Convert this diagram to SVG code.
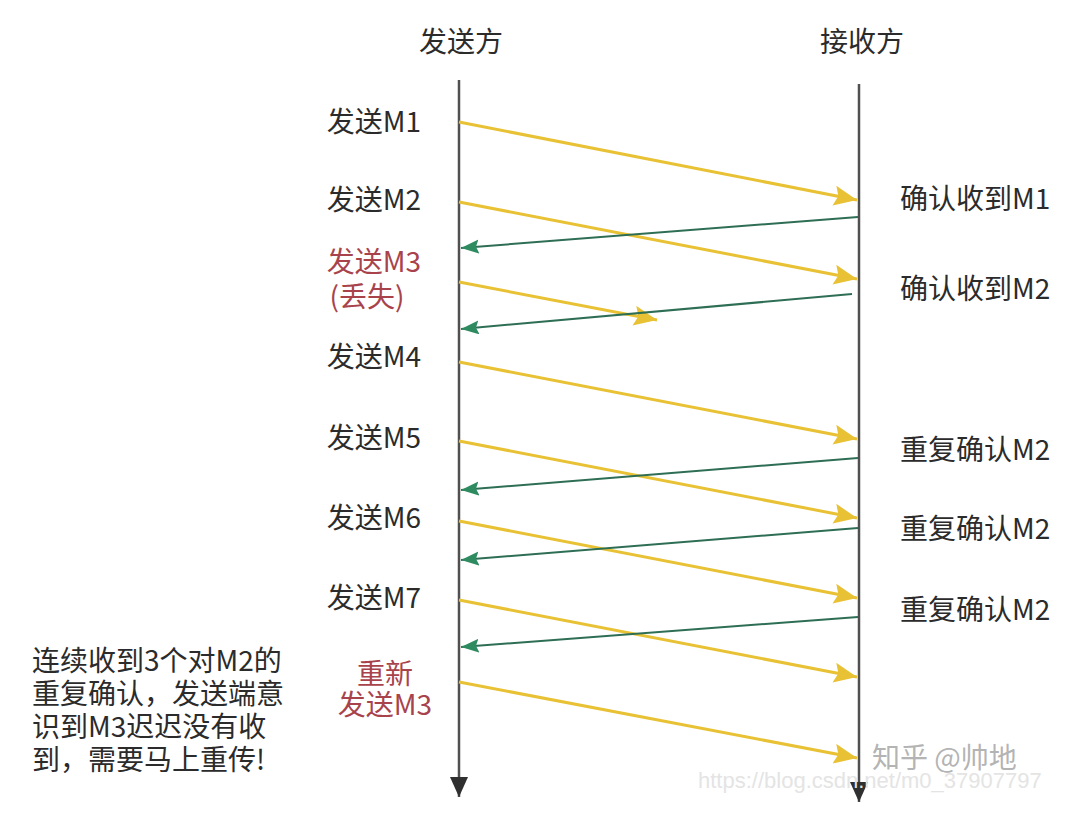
<svg xmlns="http://www.w3.org/2000/svg" width="1080" height="818" viewBox="0 0 1080 818">
<defs>
<style>
.t{font-family:"Noto Sans CJK SC","Noto Sans",sans-serif;font-size:28px;fill:#2b2b2b}
.r{fill:#a8434c}
.life{stroke:#505050;stroke-width:2.5;fill:none}
.y{stroke:#E8C234;stroke-width:3;fill:none;marker-end:url(#ya)}
.g{stroke:#2E6E55;stroke-width:2;fill:none;marker-end:url(#ga)}
</style>
<marker id="ya" markerUnits="userSpaceOnUse" markerWidth="26" markerHeight="22" refX="23" refY="10" orient="auto">
<path d="M0,0 L23,10 L0,20 L4,10 Z" fill="#E8C234"/>
</marker>
<marker id="ga" markerUnits="userSpaceOnUse" markerWidth="20" markerHeight="16" refX="18" refY="7" orient="auto">
<path d="M0,0 L18,7 L0,14 L3,7 Z" fill="#2E8B5F"/>
</marker>
<marker id="la" markerUnits="userSpaceOnUse" markerWidth="22" markerHeight="20" refX="20" refY="9" orient="auto">
<path d="M0,0 L20,9 L0,18 Z" fill="#303030"/>
</marker>
</defs>
<rect width="1080" height="818" fill="#ffffff"/>

<g id="sender">
<text class="t" x="461" y="52" text-anchor="middle">发送方</text>
<line class="life" x1="459" y1="80" x2="459" y2="797" style="marker-end:url(#la)"/>
</g>
<g id="receiver">
<text class="t" x="862" y="52" text-anchor="middle">接收方</text>
<line class="life" x1="859" y1="84" x2="859" y2="802" style="marker-end:url(#la)"/>
</g>

<g id="sender-labels">
<text class="t" x="421" y="132" text-anchor="end">发送M1</text>
<text class="t" x="421" y="210" text-anchor="end">发送M2</text>
<text class="t r"><tspan x="421" y="272" text-anchor="end">发送M3</tspan><tspan x="367" y="307" text-anchor="middle">(丢失)</tspan></text>
<text class="t" x="421" y="367" text-anchor="end">发送M4</text>
<text class="t" x="421" y="448" text-anchor="end">发送M5</text>
<text class="t" x="421" y="528" text-anchor="end">发送M6</text>
<text class="t" x="421" y="608" text-anchor="end">发送M7</text>
<text class="t r" text-anchor="middle"><tspan x="385" y="684">重新</tspan><tspan x="385" y="715">发送M3</tspan></text>
</g>

<g id="receiver-labels">
<text class="t" x="900" y="209">确认收到M1</text>
<text class="t" x="900" y="299">确认收到M2</text>
<text class="t" x="900" y="460">重复确认M2</text>
<text class="t" x="900" y="539">重复确认M2</text>
<text class="t" x="900" y="620">重复确认M2</text>
</g>

<g id="note">
<text class="t"><tspan x="32" y="671">连续收到3个对M2的</tspan><tspan x="32" y="704">重复确认，发送端意</tspan><tspan x="32" y="737">识到M3迟迟没有收</tspan><tspan x="32" y="770">到，需要马上重传!</tspan></text>
</g>

<g id="connectors">
<line class="y" x1="459" y1="122" x2="857" y2="200"/>
<line class="y" x1="459" y1="202" x2="857" y2="279"/>
<line class="y" x1="459" y1="282" x2="657" y2="320"/>
<line class="y" x1="459" y1="362" x2="857" y2="439"/>
<line class="y" x1="459" y1="441" x2="857" y2="518"/>
<line class="y" x1="459" y1="521" x2="857" y2="598"/>
<line class="y" x1="459" y1="600" x2="857" y2="677"/>
<line class="y" x1="459" y1="682" x2="857" y2="758"/>
<line class="g" x1="858" y1="217" x2="461" y2="248"/>
<line class="g" x1="852" y1="294" x2="461" y2="329"/>
<line class="g" x1="858" y1="458" x2="461" y2="490"/>
<line class="g" x1="858" y1="528" x2="461" y2="560"/>
<line class="g" x1="858" y1="617" x2="461" y2="647"/>
</g>

<g id="watermark">
<text x="698" y="788" style="font-family:'Liberation Sans',sans-serif;font-size:22px;fill:#e4e4e4">https://blog.csdn.net/m0_37907797</text>
<text x="872" y="768" style="font-family:'Noto Sans CJK SC',sans-serif;font-size:28px;fill:#a0a0a0;fill-opacity:0.8">知乎 @帅地</text>
</g>
</svg>
